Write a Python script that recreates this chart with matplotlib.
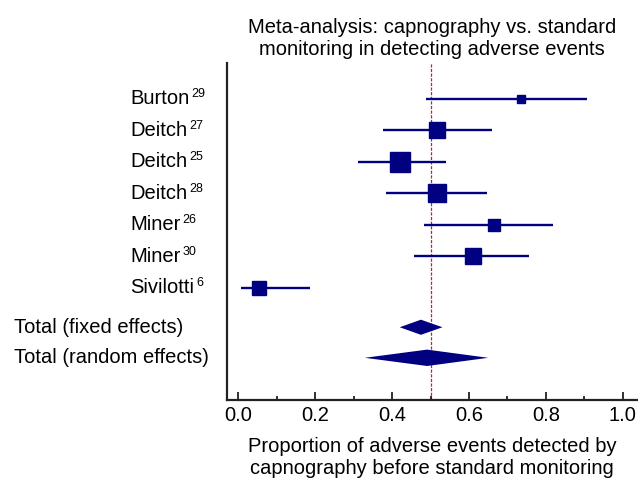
import matplotlib
matplotlib.use("Agg")
import matplotlib.pyplot as plt
import matplotlib.transforms as mtransforms

# study level results (proportion, 95% CI) and relative weights (%)
studies = ["Burton", "Deitch", "Deitch", "Deitch", "Miner", "Miner", "Sivilotti"]
refs = ["29", "27", "25", "28", "26", "30", "6"]
estimates = [0.735, 0.517, 0.421, 0.517, 0.666, 0.611, 0.055]
ci_low = [0.489, 0.377, 0.311, 0.384, 0.482, 0.456, 0.008]
ci_high = [0.906, 0.659, 0.539, 0.648, 0.818, 0.755, 0.187]
weights = [4.7, 16.0, 24.6, 20.3, 8.8, 14.6, 10.8]

# pooled estimates
pooled_names = ["Total (fixed effects)", "Total (random effects)"]
pooled_est = [0.475, 0.491]
pooled_low = [0.420, 0.329]
pooled_high = [0.531, 0.650]

navy = "#000080"
plt.rcParams["font.family"] = ["Liberation Sans", "DejaVu Sans"]

fig = plt.figure(figsize=(6.38, 4.79), dpi=100)
ax = fig.add_axes([0.3558, 0.1649, 0.6422, 0.7036])

rows = list(range(len(studies)))
pooled_rows = [7.25, 8.22]

# confidence interval lines and weighted squares
ax.hlines(rows, ci_low, ci_high, color=navy, lw=1.7, zorder=2)
for y, est, w in zip(rows, estimates, weights):
    ax.plot(est, y, marker="s", markersize=2.9 * w ** 0.5, color=navy,
            linestyle="none", zorder=3)

# diamonds for pooled results
half_h = [0.24, 0.26]
for y, est, lo, hi, h in zip(pooled_rows, pooled_est, pooled_low, pooled_high, half_h):
    ax.fill([lo, est, hi, est], [y, y - h, y, y + h], color=navy, lw=0, zorder=3)

ax.axvline(0.5, color="#b02a2a", lw=0.9, ls=(0, (2.5, 1.2)), zorder=1)

ax.set_xlim(-0.029, 1.036)
ax.set_ylim(9.56, -1.14)
ax.set_xticks([0.0, 0.2, 0.4, 0.6, 0.8, 1.0])
ax.set_xticklabels(["0.0", "0.2", "0.4", "0.6", "0.8", "1.0"])
ax.set_xticks([0.1, 0.3, 0.5, 0.7, 0.9], minor=True)
ax.set_yticks([])
ax.tick_params(axis="x", which="major", direction="in", length=6, width=1.3,
               labelsize=14.5, pad=4.5, color="#222222")
ax.tick_params(axis="x", which="minor", direction="in", length=3, width=1.3,
               color="#222222")
for side in ["top", "right"]:
    ax.spines[side].set_visible(False)
for side in ["left", "bottom"]:
    ax.spines[side].set_linewidth(1.6)
    ax.spines[side].set_color("#222222")

# row labels with superscript reference numbers
trans = mtransforms.blended_transform_factory(fig.transFigure, ax.transData)
for y, name, ref in zip(rows, studies, refs):
    t = ax.text(130 / 638, y, name, transform=trans, ha="left", va="center",
                fontsize=14.5)
    ax.annotate(ref, xy=(1, 0.42), xycoords=t, xytext=(1.5, 0),
                textcoords="offset points", ha="left", va="bottom", fontsize=9)
for y, name in zip(pooled_rows, pooled_names):
    ax.text(14 / 638, y, name, transform=trans, ha="left", va="center",
            fontsize=14.5)

ax.set_title("Meta-analysis: capnography vs. standard\n"
             "monitoring in detecting adverse events", fontsize=14.5, pad=6)
ax.set_xlabel("Proportion of adverse events detected by\n"
              "capnography before standard monitoring", fontsize=14.5, labelpad=8.5)

fig.savefig("out.png", dpi=100)
